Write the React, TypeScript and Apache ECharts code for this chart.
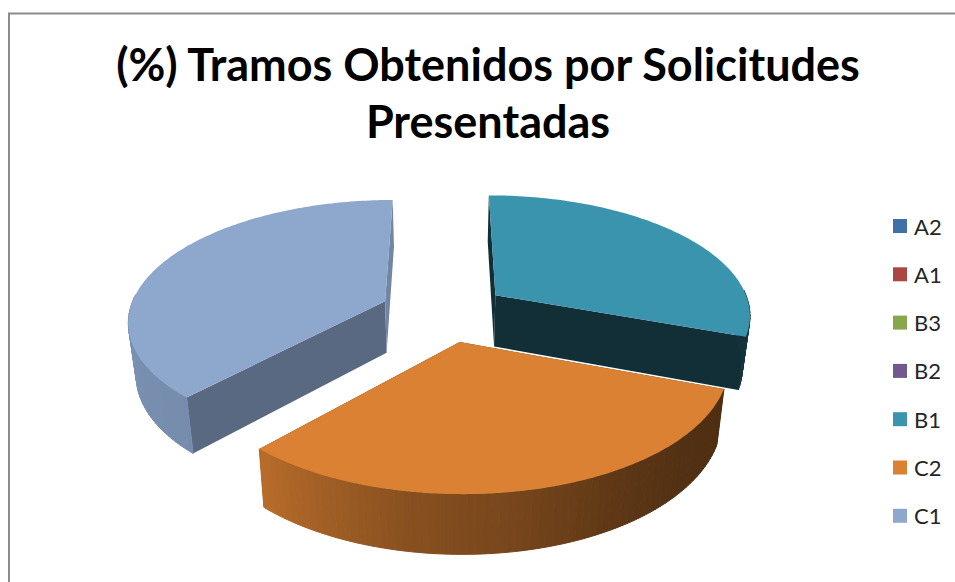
import React, { useEffect, useRef } from "react";
import * as echarts from "echarts";

const titleText = "(%) Tramos Obtenidos por Solicitudes\nPresentadas";
const categories = ["A2", "A1", "B3", "B2", "B1", "C2", "C1"];
const shares = [0, 0, 0, 0, 30.6, 31.2, 38.2];
const colours = ["#3F70A8", "#AA4643", "#89A54E", "#71588F", "#3A94AD", "#DB8133", "#8DA7CD"];

// Projection of the tilted pie onto the page
const CX = 444, CY = 312, RX = 256, RY = 119.4, PERSP = 0.149;
const EXPLODE = 0.25, DEPTH = 52, DEPTH_PERSP = 0.11, FLOOR_SCALE = 0.975;
const RAD = Math.PI / 180;

const total = shares.reduce((a, b) => a + b, 0);
const startOf = (i: number) => (shares.slice(0, i).reduce((a, b) => a + b, 0) / total) * 360;

function project(theta: number, r: number, mid: number, floor: boolean): number[] {
  const u = EXPLODE * Math.sin(mid * RAD) + r * Math.sin(theta * RAD);
  const v = -EXPLODE * Math.cos(mid * RAD) - r * Math.cos(theta * RAD);
  const den = 1 - PERSP * v;
  let x = (RX * u) / den;
  let y = (RY * v) / den;
  if (floor) {
    x *= FLOOR_SCALE;
    y += DEPTH / (1 - DEPTH_PERSP * v);
  }
  return [CX + x, CY + y];
}

// Brightness of the rim as a function of the pie angle
const rimAngles = [90, 110, 130, 150, 170, 190, 222, 280, 360];
const rimLight = [0.34, 0.36, 0.37, 0.43, 0.54, 0.62, 0.84, 0.88, 0.8];
function rimShade(theta: number) {
  for (let i = 1; i < rimAngles.length; i++) {
    if (theta <= rimAngles[i]) {
      const f = (theta - rimAngles[i - 1]) / (rimAngles[i] - rimAngles[i - 1]);
      return rimLight[i - 1] + f * (rimLight[i] - rimLight[i - 1]);
    }
  }
  return rimLight[0];
}
function shade(hex: string, k: number) {
  const n = parseInt(hex.slice(1), 16);
  const c = [(n >> 16) & 255, (n >> 8) & 255, n & 255].map((x) => Math.round(x * k));
  return `rgb(${c[0]},${c[1]},${c[2]})`;
}
const cutFaceLight: Record<string, number[]> = {
  B1: [0.31, 0.31],
  C2: [0.4, 0.4],
  C1: [0.63, 0.8],
};

function renderSlice(params: any, api: any) {
  const i = params.seriesIndex;
  const value = api.value(0);
  if (!value) return { type: "group", children: [] };
  const a0 = startOf(i);
  const a1 = a0 + (value / total) * 360;
  const mid = (a0 + a1) / 2;
  const base = colours[i];
  const light = cutFaceLight[categories[i]] || [0.5, 0.5];
  const children: any[] = [];
  const poly = (points: number[][], fill: string, lineWidth: number) => ({
    type: "polygon",
    shape: { points },
    style: { fill, stroke: lineWidth ? fill : "none", lineWidth },
    silent: true,
  });
  // the two cut faces
  [a0, a1].forEach((a, k) => {
    children.push(
      poly(
        [project(0, 0, mid, false), project(a, 1, mid, false), project(a, 1, mid, true), project(0, 0, mid, true)],
        shade(base, light[k]),
        0
      )
    );
  });
  // the rim, in fine bands; only the part that faces the viewer
  const bands = Math.max(1, Math.round((a1 - a0) / 1.5));
  for (let b = 0; b < bands; b++) {
    const t0 = a0 + ((a1 - a0) * b) / bands;
    const t1 = a0 + ((a1 - a0) * (b + 1)) / bands;
    const m = (t0 + t1) / 2;
    if (Math.cos(m * RAD) > 0.05) continue;
    children.push(
      poly(
        [project(t0, 1, mid, false), project(t1, 1, mid, false), project(t1, 1, mid, true), project(t0, 1, mid, true)],
        shade(base, rimShade(m)),
        1
      )
    );
  }
  // the top face
  const top: number[][] = [project(0, 0, mid, false)];
  const steps = Math.ceil(a1 - a0);
  for (let s = 0; s <= steps; s++) top.push(project(a0 + ((a1 - a0) * s) / steps, 1, mid, false));
  children.push(poly(top, base, 0));
  return { type: "group", children };
}

export default function App() {
  const ref = useRef<HTMLDivElement>(null);
  useEffect(() => {
    document.body.style.margin = "0";
    const chart = echarts.init(ref.current!, undefined, { renderer: "svg" });
    chart.setOption({
      animation: false,
      backgroundColor: "#ffffff",
      title: {
        text: titleText,
        left: 483,
        top: 30,
        textAlign: "center",
        textStyle: {
          fontFamily: "Lato",
          fontWeight: "bold",
          fontSize: 45,
          lineHeight: 57,
          color: "#000000",
        },
      },
      legend: {
        orient: "vertical",
        left: 888,
        top: 210,
        icon: "rect",
        itemWidth: 14,
        itemHeight: 14,
        itemGap: 26.3,
        selectedMode: false,
        data: categories,
        textStyle: { fontFamily: "Lato", fontSize: 22, lineHeight: 22, color: "#262626", padding: [0, 0, 0, 2] },
      },
      graphic: [
        {
          type: "polyline",
          silent: true,
          shape: { points: [[9, 582], [9, 13.5], [955, 13.5]] },
          style: { stroke: "#8c8c8c", lineWidth: 2, fill: "none" },
        },
      ],
      series: categories.map((name, i) => ({
        type: "custom",
        name,
        coordinateSystem: "none",
        silent: true,
        itemStyle: { color: colours[i] },
        data: [[shares[i]]],
        renderItem: renderSlice,
      })),
    });
    return () => chart.dispose();
  }, []);
  return <div ref={ref} style={{ position: "absolute", left: 0, top: 0, width: 955, height: 582 }} />;
}
